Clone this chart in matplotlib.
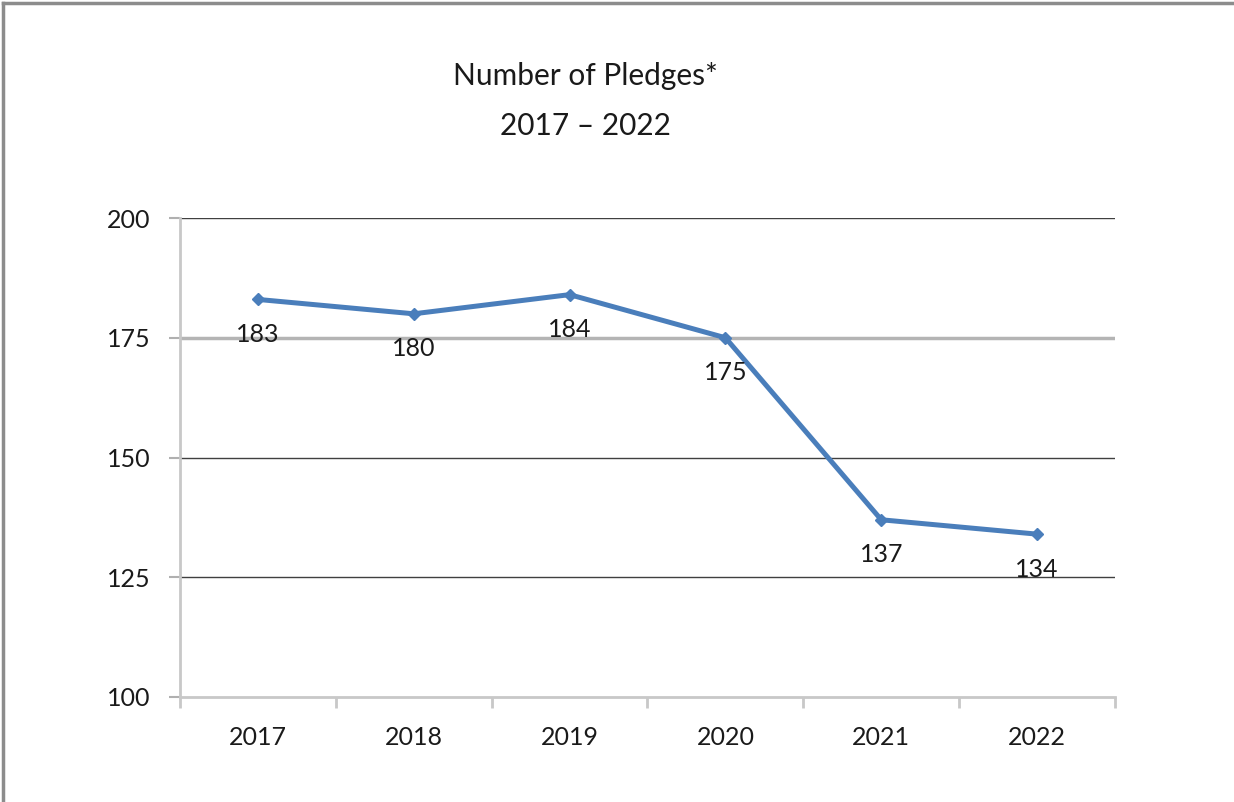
import matplotlib
matplotlib.use("Agg")
import matplotlib.pyplot as plt
from matplotlib.lines import Line2D

years = ["2017", "2018", "2019", "2020", "2021", "2022"]
pledges = [183, 180, 184, 175, 137, 134]
yticks = [100, 125, 150, 175, 200]

plt.rcParams['font.family'] = ['Lato', 'DejaVu Sans']

fig = plt.figure(figsize=(12.34, 8.02), dpi=100)
ax = fig.add_axes([180/1234, 1-697/802, (1115-180)/1234, (697-218)/802])

x = list(range(len(years)))
ax.plot(x, pledges, color='#4a7ebb', lw=3.6, marker='D', ms=6.5, zorder=3)
for xi, v in zip(x, pledges):
    ax.annotate(str(v), (xi, v), xytext=(0, -35), textcoords='offset pixels',
                ha='center', va='center', fontsize=18, color='#1a1a1a', zorder=4)

ax.set_xlim(-0.5, len(years) - 0.5)
ax.set_ylim(100, 200)
ax.set_yticks(yticks)
ax.set_yticklabels([str(t) for t in yticks], fontsize=18, color='#1a1a1a')
ax.set_xticks(x)
ax.set_xticklabels(years, fontsize=18, color='#1a1a1a')
ax.tick_params(axis='x', length=0, pad=21)
ax.tick_params(axis='y', length=8, color='#b0b0b0', width=1.5, pad=13)
ax.set_xticks([i - 0.5 for i in range(len(years) + 1)], minor=True)
ax.tick_params(axis='x', which='minor', length=8, color='#c8c8c8', width=2)

for t in yticks[1:]:
    if t == 175:
        ax.axhline(t, color='#b4b4b4', lw=2.5, zorder=1)
    else:
        ax.axhline(t, color='#404040', lw=1.0, zorder=1)

for s in ['top', 'right']:
    ax.spines[s].set_visible(False)
ax.spines['left'].set_color('#c8c8c8')
ax.spines['left'].set_linewidth(2)
ax.spines['bottom'].set_color('#c8c8c8')
ax.spines['bottom'].set_linewidth(2)

fig.text(585/1234, 1-76/802, "Number of Pledges*", ha='center', va='center', fontsize=21.5, color='#1a1a1a')
fig.text(585/1234, 1-126/802, "2017 \u2013 2022", ha='center', va='center', fontsize=21.5, color='#1a1a1a')

fig.add_artist(Line2D([3/1234, 1], [1-3/802, 1-3/802], transform=fig.transFigure, color='#8c8c8c', lw=2.5))
fig.add_artist(Line2D([3/1234, 3/1234], [0, 1-3/802], transform=fig.transFigure, color='#8c8c8c', lw=2.5))

fig.savefig("out.png", dpi=100)
